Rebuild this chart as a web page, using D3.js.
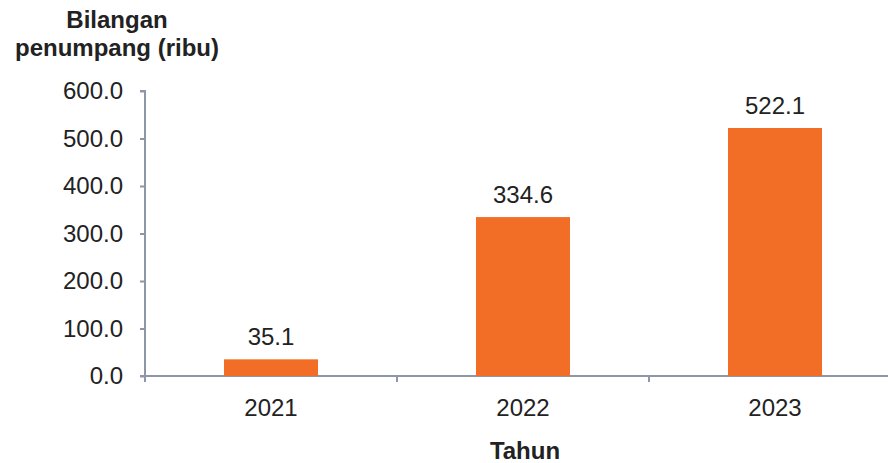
<!DOCTYPE html>
<html>
<head>
<meta charset="utf-8">
<script src="https://cdn.jsdelivr.net/npm/d3@7"></script>
<style>
   body { margin: 0; background: #fff; }
   svg { display: block; font-family: "Liberation Sans", Arial, sans-serif; }
</style>
</head>
<body>
<div id="chart"></div>
<script>
const years = ["2021", "2022", "2023"];
const passengers = [35.1, 334.6, 522.1];
const yTicks = [0, 100, 200, 300, 400, 500, 600];

const width = 888, height = 463;
const plotLeft = 145, plotRight = 901, plotTop = 91, plotBottom = 376;
const axisColor = "#8d97a8";
const fontSize = "24px";

let svg = d3.select("#chart")
   .append("svg")
   .attr("width", width)
   .attr("height", height);

let x = d3.scaleBand()
   .domain(years)
   .range([plotLeft, plotRight])
   .paddingInner(0)
   .paddingOuter(0);

let y = d3.scaleLinear()
   .domain([0, 600])
   .range([plotBottom, plotTop]);

// y axis
let yAxis = svg.append("g")
   .attr("transform", `translate(${plotLeft},0)`)
   .call(d3.axisLeft(y).tickValues(yTicks).tickSize(5).tickPadding(17).tickFormat(d3.format(".1f")));
yAxis.select(".domain").attr("stroke", axisColor).attr("stroke-width", 2).attr("d", `M-5,${plotTop}H0V${plotBottom}`);
yAxis.selectAll(".tick line").attr("stroke", axisColor).attr("stroke-width", 2);
yAxis.selectAll(".tick text").attr("fill", "#222").style("font-size", fontSize);

// x axis
let xAxis = svg.append("g")
   .attr("transform", `translate(0,${plotBottom})`)
   .call(d3.axisBottom(x).tickSize(0).tickPadding(23));
xAxis.select(".domain").attr("stroke", axisColor).attr("stroke-width", 2).attr("d", `M${plotLeft - 5},0H${plotRight}`);
xAxis.selectAll(".tick text").attr("fill", "#222").style("font-size", fontSize);
xAxis.selectAll(".bound")
   .data(years.map(d => x(d)))
   .enter()
   .append("line")
   .attr("x1", d => d).attr("x2", d => d)
   .attr("y1", 0).attr("y2", 6)
   .attr("stroke", axisColor)
   .attr("stroke-width", 2);

// bars
const barW = 94;
svg.selectAll(".bar")
   .data(years)
   .enter()
   .append("rect")
   .attr("class", "bar")
   .attr("x", (d) => x(d) + x.bandwidth() / 2 - barW / 2)
   .attr("y", (d, i) => y(passengers[i]))
   .attr("width", barW)
   .attr("height", (d, i) => y(0) - y(passengers[i]))
   .attr("fill", "#f26e27");

svg.selectAll(".val")
   .data(years)
   .enter()
   .append("text")
   .attr("x", (d) => x(d) + x.bandwidth() / 2)
   .attr("y", (d, i) => y(passengers[i]) - 14)
   .attr("text-anchor", "middle")
   .attr("fill", "#222")
   .style("font-size", fontSize)
   .text((d, i) => passengers[i].toFixed(1));

// titles
let ttl = svg.append("text")
   .attr("text-anchor", "middle")
   .attr("fill", "#222")
   .style("font-size", fontSize)
   .style("font-weight", "bold");
ttl.append("tspan").attr("x", 117).attr("y", 28).text("Bilangan");
ttl.append("tspan").attr("x", 117).attr("y", 56).text("penumpang (ribu)");

svg.append("text")
   .attr("x", 525)
   .attr("y", 459)
   .attr("text-anchor", "middle")
   .attr("fill", "#222")
   .style("font-size", fontSize)
   .style("font-weight", "bold")
   .text("Tahun");
</script>
</body>
</html>
